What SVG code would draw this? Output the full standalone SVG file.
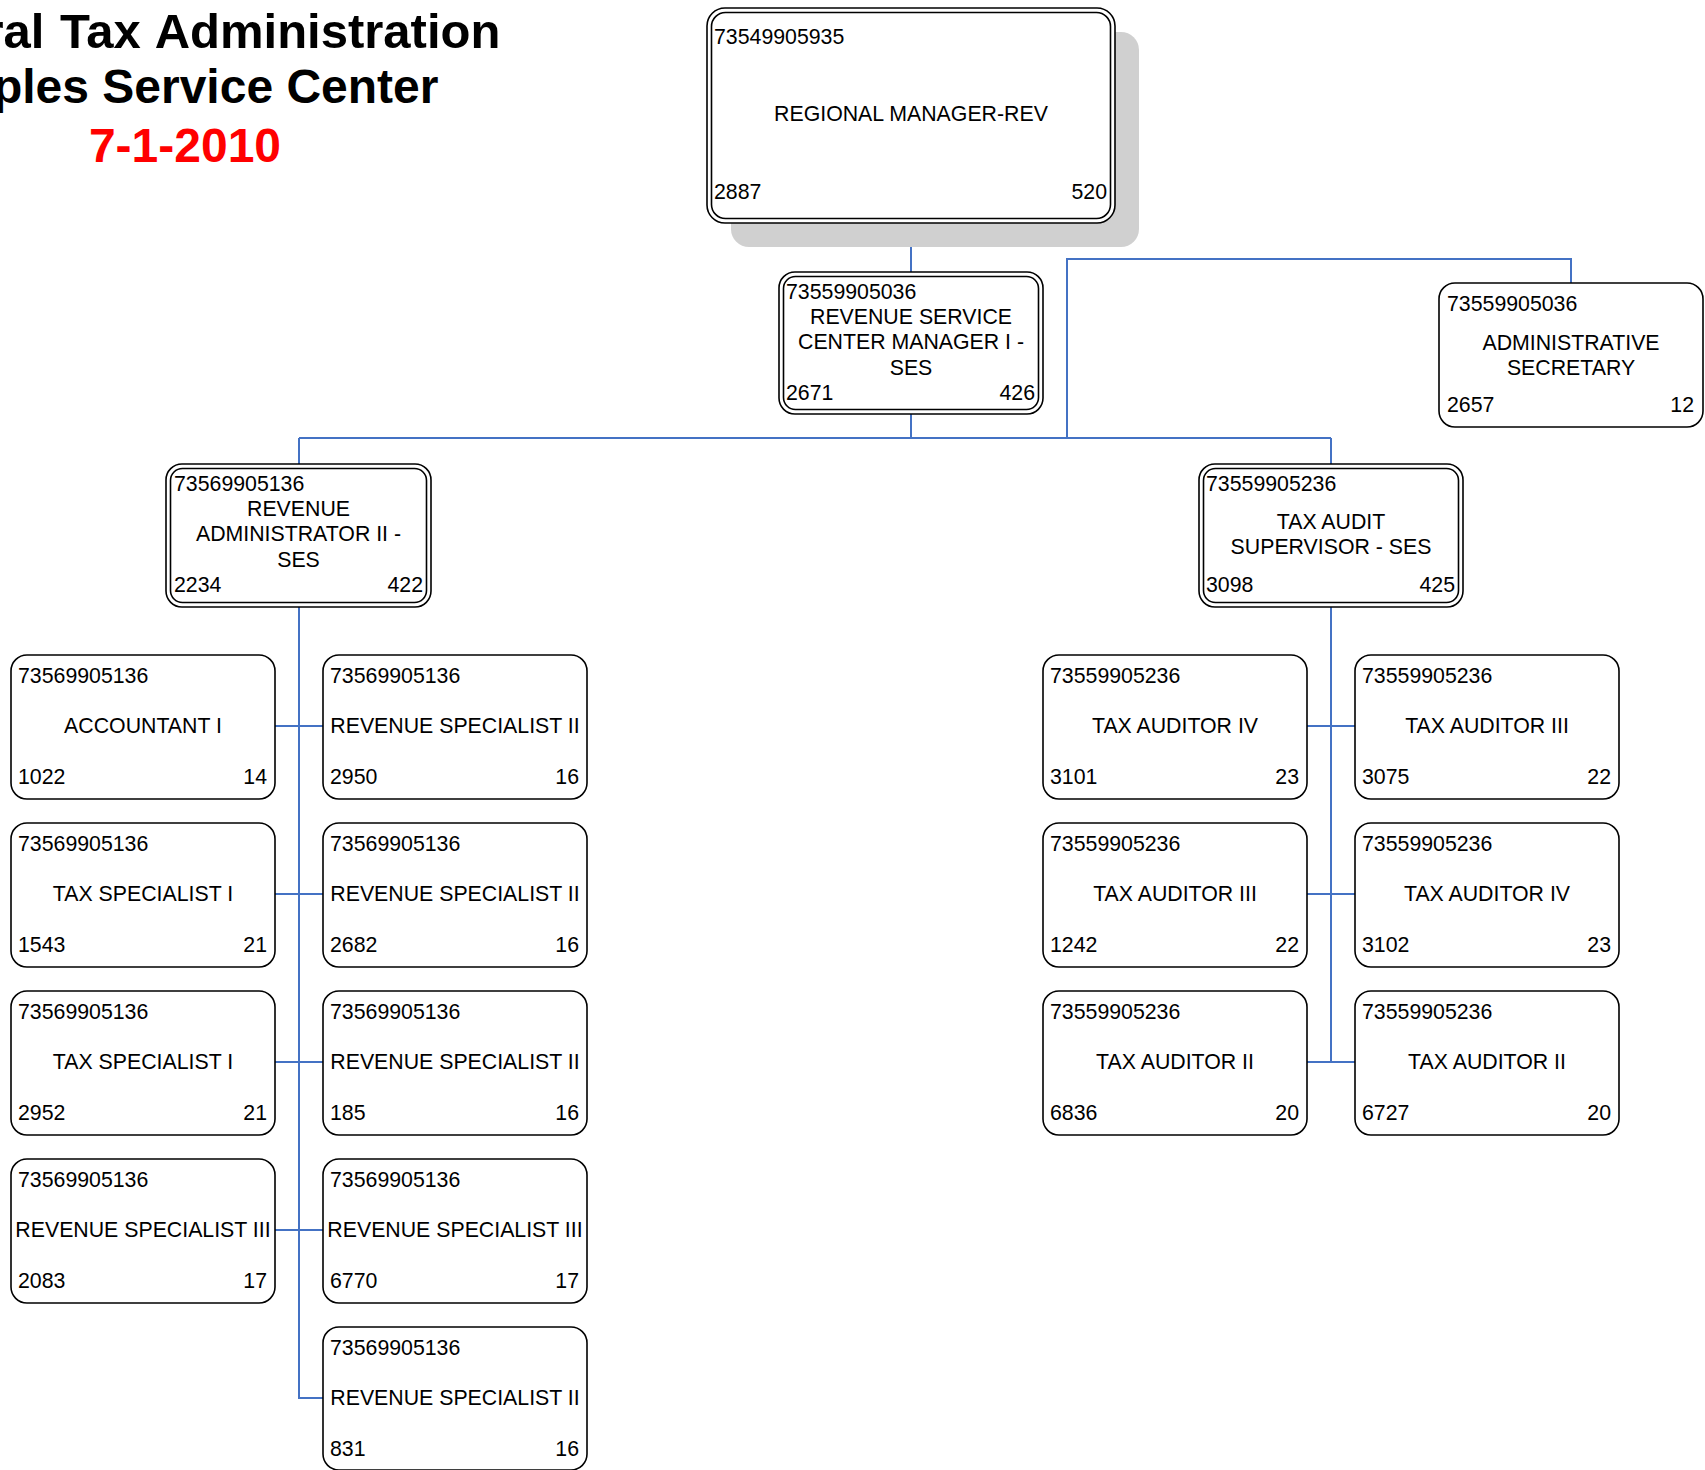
<svg xmlns="http://www.w3.org/2000/svg" width="1705" height="1470" viewBox="0 0 1705 1470">
  <style>
    .box{fill:#fff;stroke:#000;stroke-width:1.6}
    .shadow{fill:#d0d0d0;stroke:none}
    .t{font-family:"Liberation Sans",Arial,sans-serif;font-size:21.3px;fill:#000}
    .c{text-anchor:middle}
    .r{text-anchor:end}
    .conn{stroke:#4472c4;stroke-width:2;fill:none}
    .head{font-family:"Liberation Sans",Arial,sans-serif;font-weight:bold;font-size:48px;text-anchor:middle;fill:#000}
    .date{fill:#ff0000}
  </style>

  <!-- Heading -->
  <g id="heading">
    <text class="head" x="188" y="48" style="font-size:49px;word-spacing:2px">Central Tax Administration</text>
    <text class="head" x="185" y="103">Naples Service Center</text>
    <text class="head date" x="185" y="162">7-1-2010</text>
  </g>

  <!-- Reporting lines -->
  <g id="connectors" class="conn">
    <path d="M911 223V272"/>
    <path d="M1571 283V259H1067V438"/>
    <path d="M911 414V438"/>
    <path d="M299 438H1331"/>
    <path d="M299 438V464"/>
    <path d="M1331 438V464"/>
    <path d="M299 607V1398H323"/>
    <path d="M275 726H323M275 894H323M275 1062H323M275 1230H323"/>
    <path d="M1331 607V1062"/>
    <path d="M1307 726H1355M1307 894H1355M1307 1062H1355"/>
  </g>

  <!-- Regional manager -->
  <g id="node-regional-manager">
    <rect class="shadow" x="731" y="32" width="408" height="215" rx="18"/>
    <rect class="box" x="707" y="8" width="408" height="215" rx="18"/>
    <rect class="box" x="711.5" y="12.5" width="399" height="206" rx="14"/>
    <text class="t" x="714" y="44">73549905935</text>
    <text class="t c" x="911" y="121">REGIONAL MANAGER-REV</text>
    <text class="t" x="714" y="199">2887</text>
    <text class="t r" x="1107" y="199">520</text>
  </g>

  <!-- Revenue service center manager -->
  <g id="node-rscm">
    <rect class="box" x="779" y="272" width="264" height="142" rx="16"/>
    <rect class="box" x="783.5" y="276.5" width="255" height="133" rx="12"/>
    <text class="t" x="786" y="299">73559905036</text>
    <text class="t c" x="911" y="324">REVENUE SERVICE</text>
    <text class="t c" x="911" y="349">CENTER MANAGER I -</text>
    <text class="t c" x="911" y="375">SES</text>
    <text class="t" x="786" y="400">2671</text>
    <text class="t r" x="1035" y="400">426</text>
  </g>

  <!-- Administrative secretary -->
  <g id="node-admin-secretary">
    <rect class="box" x="1439" y="283" width="264" height="144" rx="16"/>
    <text class="t" x="1447" y="311">73559905036</text>
    <text class="t c" x="1571" y="350">ADMINISTRATIVE</text>
    <text class="t c" x="1571" y="375">SECRETARY</text>
    <text class="t" x="1447" y="412">2657</text>
    <text class="t r" x="1694" y="412">12</text>
  </g>

  <!-- Revenue administrator -->
  <g id="node-rev-admin">
    <rect class="box" x="166" y="464" width="265" height="143" rx="16"/>
    <rect class="box" x="170.5" y="468.5" width="256" height="134" rx="12"/>
    <text class="t" x="174" y="491">73569905136</text>
    <text class="t c" x="298.5" y="516">REVENUE</text>
    <text class="t c" x="298.5" y="541">ADMINISTRATOR II -</text>
    <text class="t c" x="298.5" y="567">SES</text>
    <text class="t" x="174" y="592">2234</text>
    <text class="t r" x="423" y="592">422</text>
  </g>

  <!-- Tax audit supervisor -->
  <g id="node-tax-audit-sup">
    <rect class="box" x="1199" y="464" width="264" height="143" rx="16"/>
    <rect class="box" x="1203.5" y="468.5" width="255" height="134" rx="12"/>
    <text class="t" x="1206" y="491">73559905236</text>
    <text class="t c" x="1331" y="529">TAX AUDIT</text>
    <text class="t c" x="1331" y="554">SUPERVISOR - SES</text>
    <text class="t" x="1206" y="592">3098</text>
    <text class="t r" x="1455" y="592">425</text>
  </g>

  <!-- Revenue administrator staff, left column -->
  <g id="node-l1" transform="translate(11 655)">
    <rect class="box" width="264" height="144" rx="16"/>
    <text class="t" x="7" y="28">73569905136</text>
    <text class="t c" x="132" y="78">ACCOUNTANT I</text>
    <text class="t" x="7" y="129">1022</text>
    <text class="t r" x="256" y="129">14</text>
  </g>
  <g id="node-l2" transform="translate(11 823)">
    <rect class="box" width="264" height="144" rx="16"/>
    <text class="t" x="7" y="28">73569905136</text>
    <text class="t c" x="132" y="78">TAX SPECIALIST I</text>
    <text class="t" x="7" y="129">1543</text>
    <text class="t r" x="256" y="129">21</text>
  </g>
  <g id="node-l3" transform="translate(11 991)">
    <rect class="box" width="264" height="144" rx="16"/>
    <text class="t" x="7" y="28">73569905136</text>
    <text class="t c" x="132" y="78">TAX SPECIALIST I</text>
    <text class="t" x="7" y="129">2952</text>
    <text class="t r" x="256" y="129">21</text>
  </g>
  <g id="node-l4" transform="translate(11 1159)">
    <rect class="box" width="264" height="144" rx="16"/>
    <text class="t" x="7" y="28">73569905136</text>
    <text class="t c" x="132" y="78">REVENUE SPECIALIST III</text>
    <text class="t" x="7" y="129">2083</text>
    <text class="t r" x="256" y="129">17</text>
  </g>

  <!-- Revenue administrator staff, right column -->
  <g id="node-r1" transform="translate(323 655)">
    <rect class="box" width="264" height="144" rx="16"/>
    <text class="t" x="7" y="28">73569905136</text>
    <text class="t c" x="132" y="78">REVENUE SPECIALIST II</text>
    <text class="t" x="7" y="129">2950</text>
    <text class="t r" x="256" y="129">16</text>
  </g>
  <g id="node-r2" transform="translate(323 823)">
    <rect class="box" width="264" height="144" rx="16"/>
    <text class="t" x="7" y="28">73569905136</text>
    <text class="t c" x="132" y="78">REVENUE SPECIALIST II</text>
    <text class="t" x="7" y="129">2682</text>
    <text class="t r" x="256" y="129">16</text>
  </g>
  <g id="node-r3" transform="translate(323 991)">
    <rect class="box" width="264" height="144" rx="16"/>
    <text class="t" x="7" y="28">73569905136</text>
    <text class="t c" x="132" y="78">REVENUE SPECIALIST II</text>
    <text class="t" x="7" y="129">185</text>
    <text class="t r" x="256" y="129">16</text>
  </g>
  <g id="node-r4" transform="translate(323 1159)">
    <rect class="box" width="264" height="144" rx="16"/>
    <text class="t" x="7" y="28">73569905136</text>
    <text class="t c" x="132" y="78">REVENUE SPECIALIST III</text>
    <text class="t" x="7" y="129">6770</text>
    <text class="t r" x="256" y="129">17</text>
  </g>
  <g id="node-r5" transform="translate(323 1327)">
    <rect class="box" width="264" height="143" rx="16"/>
    <text class="t" x="7" y="28">73569905136</text>
    <text class="t c" x="132" y="78">REVENUE SPECIALIST II</text>
    <text class="t" x="7" y="129">831</text>
    <text class="t r" x="256" y="129">16</text>
  </g>

  <!-- Tax audit staff -->
  <g id="node-a1" transform="translate(1043 655)">
    <rect class="box" width="264" height="144" rx="16"/>
    <text class="t" x="7" y="28">73559905236</text>
    <text class="t c" x="132" y="78">TAX AUDITOR IV</text>
    <text class="t" x="7" y="129">3101</text>
    <text class="t r" x="256" y="129">23</text>
  </g>
  <g id="node-a2" transform="translate(1043 823)">
    <rect class="box" width="264" height="144" rx="16"/>
    <text class="t" x="7" y="28">73559905236</text>
    <text class="t c" x="132" y="78">TAX AUDITOR III</text>
    <text class="t" x="7" y="129">1242</text>
    <text class="t r" x="256" y="129">22</text>
  </g>
  <g id="node-a3" transform="translate(1043 991)">
    <rect class="box" width="264" height="144" rx="16"/>
    <text class="t" x="7" y="28">73559905236</text>
    <text class="t c" x="132" y="78">TAX AUDITOR II</text>
    <text class="t" x="7" y="129">6836</text>
    <text class="t r" x="256" y="129">20</text>
  </g>
  <g id="node-b1" transform="translate(1355 655)">
    <rect class="box" width="264" height="144" rx="16"/>
    <text class="t" x="7" y="28">73559905236</text>
    <text class="t c" x="132" y="78">TAX AUDITOR III</text>
    <text class="t" x="7" y="129">3075</text>
    <text class="t r" x="256" y="129">22</text>
  </g>
  <g id="node-b2" transform="translate(1355 823)">
    <rect class="box" width="264" height="144" rx="16"/>
    <text class="t" x="7" y="28">73559905236</text>
    <text class="t c" x="132" y="78">TAX AUDITOR IV</text>
    <text class="t" x="7" y="129">3102</text>
    <text class="t r" x="256" y="129">23</text>
  </g>
  <g id="node-b3" transform="translate(1355 991)">
    <rect class="box" width="264" height="144" rx="16"/>
    <text class="t" x="7" y="28">73559905236</text>
    <text class="t c" x="132" y="78">TAX AUDITOR II</text>
    <text class="t" x="7" y="129">6727</text>
    <text class="t r" x="256" y="129">20</text>
  </g>
</svg>
